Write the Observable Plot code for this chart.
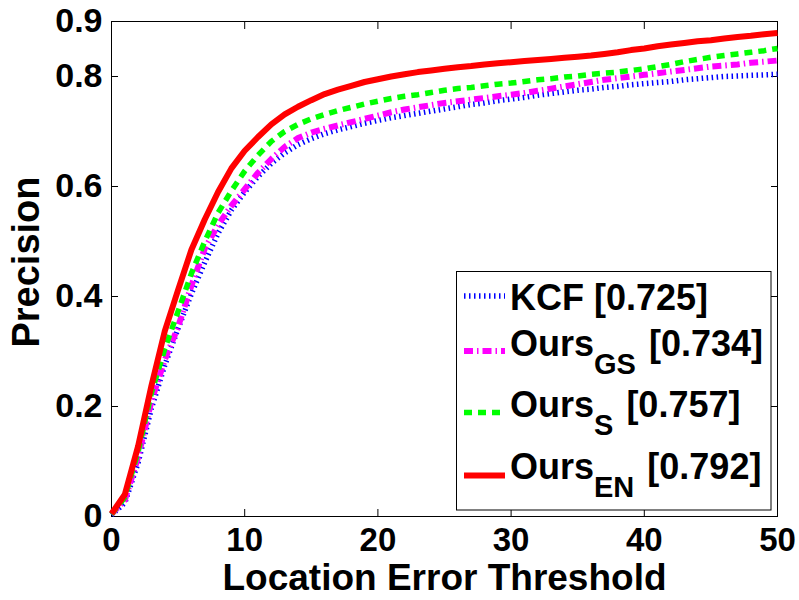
<!DOCTYPE html>
<html>
<head>
<meta charset="utf-8">
<script src="https://cdn.jsdelivr.net/npm/d3@7"></script>
<script src="https://cdn.jsdelivr.net/npm/@observablehq/plot@0.6"></script>
<style>
  html, body { margin: 0; padding: 0; background: white; }
  #chart { width: 799px; height: 600px; }
</style>
</head>
<body>
<div id="chart"></div>
<script>
// ---- data ----
const thresholds = [0,1,2,3,4,5,6,7,8,9,10,11,12,13,14,15,16,17,18,19,20,21,22,23,24,25,26,27,28,29,30,31,32,33,34,35,36,37,38,39,40,41,42,43,44,45,46,47,48,49,50];
const kcf = [0.003,0.025,0.098,0.197,0.275,0.342,0.405,0.462,0.515,0.557,0.590,0.618,0.642,0.661,0.676,0.687,0.696,0.703,0.709,0.715,0.720,0.725,0.729,0.733,0.737,0.741,0.745,0.749,0.752,0.756,0.759,0.762,0.766,0.769,0.772,0.775,0.777,0.780,0.782,0.785,0.787,0.789,0.791,0.794,0.796,0.798,0.800,0.801,0.802,0.803,0.804];
const oursGS = [0.004,0.030,0.108,0.210,0.285,0.345,0.420,0.487,0.530,0.565,0.595,0.625,0.650,0.672,0.688,0.698,0.705,0.711,0.717,0.723,0.729,0.735,0.740,0.744,0.748,0.752,0.755,0.758,0.761,0.764,0.767,0.770,0.774,0.778,0.782,0.786,0.790,0.794,0.797,0.800,0.803,0.806,0.809,0.812,0.815,0.818,0.820,0.822,0.825,0.827,0.829];
const oursS = [0.004,0.035,0.118,0.225,0.305,0.373,0.442,0.500,0.552,0.592,0.628,0.657,0.682,0.700,0.713,0.723,0.731,0.738,0.744,0.750,0.755,0.760,0.764,0.767,0.771,0.775,0.778,0.780,0.783,0.786,0.788,0.791,0.794,0.796,0.799,0.801,0.804,0.806,0.808,0.811,0.814,0.818,0.822,0.827,0.831,0.835,0.838,0.841,0.844,0.847,0.851];
const oursEN = [0.005,0.040,0.128,0.238,0.337,0.412,0.485,0.540,0.590,0.633,0.665,0.690,0.713,0.731,0.745,0.757,0.768,0.776,0.783,0.790,0.795,0.800,0.804,0.808,0.811,0.814,0.817,0.819,0.822,0.824,0.826,0.828,0.830,0.832,0.834,0.836,0.838,0.841,0.844,0.848,0.851,0.855,0.858,0.861,0.864,0.866,0.869,0.872,0.874,0.877,0.879];

const seriesNames = ["KCF", "Ours", "Ours", "Ours"];
const seriesSubs = ["", "GS", "S", "EN"];
const seriesScores = ["0.725", "0.734", "0.757", "0.792"];
const xTicks = [0, 10, 20, 30, 40, 50];
const yTicks = [0, 0.2, 0.4, 0.6, 0.8, 0.9];
const xTitle = "Location Error Threshold";
const yTitle = "Precision";

// ---- styles ----
const styles = [
  {color: "#0000ff", width: 5.5, dash: "1.5,3.5"},
  {color: "#ff00ff", width: 6, dash: "9,4,1.5,4"},
  {color: "#00ff00", width: 5.5, dash: "8,6"},
  {color: "#ff0000", width: 6, dash: null}
];
const seriesValues = [kcf, oursGS, oursS, oursEN];

const font = "'Liberation Sans', Arial, Helvetica, sans-serif";

const lineMarks = seriesValues.map((vals, i) => Plot.line(vals, {
  x: thresholds, y: d => d,
  stroke: styles[i].color, strokeWidth: styles[i].width,
  strokeDasharray: styles[i].dash, strokeLinecap: "butt", strokeLinejoin: "round"
}));

const chart = Plot.plot({
  width: 799, height: 600,
  marginLeft: 111, marginRight: 22, marginTop: 21, marginBottom: 84,
  style: {fontFamily: font, fontWeight: "bold", color: "black", background: "white"},
  x: {domain: [0, 50]},
  y: {domain: [0, 0.9]},
  marks: [
    Plot.frame({stroke: "black", strokeWidth: 1}),
    Plot.axisX(xTicks, {anchor: "bottom", tickSize: -7, tickPadding: 18, fontSize: 33, fontWeight: "bold", label: null, tickFormat: d => String(d)}),
    Plot.axisX(xTicks, {anchor: "top", tickSize: -7, label: null, tickFormat: () => ""}),
    Plot.axisY(yTicks, {anchor: "left", tickSize: -7, tickPadding: 16, fontSize: 34, fontWeight: "bold", label: null, tickFormat: d => String(d)}),
    Plot.axisY(yTicks, {anchor: "right", tickSize: -7, label: null, tickFormat: () => ""}),
    ...lineMarks,
    Plot.text([xTitle], {frameAnchor: "bottom", dy: 73, lineAnchor: "bottom", textAnchor: "middle", fontSize: 37, fontWeight: "bold", fill: "black"}),
    Plot.text([yTitle], {frameAnchor: "left", dx: -73, dy: -7, rotate: -90, lineAnchor: "bottom", textAnchor: "middle", fontSize: 38, fontWeight: "bold", fill: "black"})
  ]
});

document.getElementById("chart").appendChild(chart);

// ---- legend (inside the axes, like the original) ----
const svg = d3.select(chart);
const lg = svg.append("g").attr("font-family", font).attr("font-weight", "bold")
  .attr("fill", "black").attr("text-anchor", "start");
lg.append("rect").attr("x", 456.5).attr("y", 271.5).attr("width", 314.5).attr("height", 238.5)
  .attr("fill", "white").attr("stroke", "black").attr("stroke-width", 1);
const rowLine = [296, 351, 412.5, 475.5];
const rowBase = [310, 356, 417, 478.5];
seriesNames.forEach((name, i) => {
  lg.append("line").attr("x1", 464).attr("x2", 505).attr("y1", rowLine[i]).attr("y2", rowLine[i])
    .attr("stroke", styles[i].color).attr("stroke-width", styles[i].width)
    .attr("stroke-dasharray", styles[i].dash).attr("stroke-linecap", "butt");
  const t = lg.append("text").attr("x", 510).attr("y", rowBase[i]).attr("font-size", 36)
    .attr("text-anchor", "start");
  t.append("tspan").text(name);
  if (seriesSubs[i]) {
    t.append("tspan").attr("dy", 18).attr("font-size", 29).text(seriesSubs[i]);
    t.append("tspan").attr("dy", -18).attr("dx", 3).text(" [" + seriesScores[i] + "]");
  } else {
    t.append("tspan").text(" [" + seriesScores[i] + "]");
  }
});
</script>
</body>
</html>
